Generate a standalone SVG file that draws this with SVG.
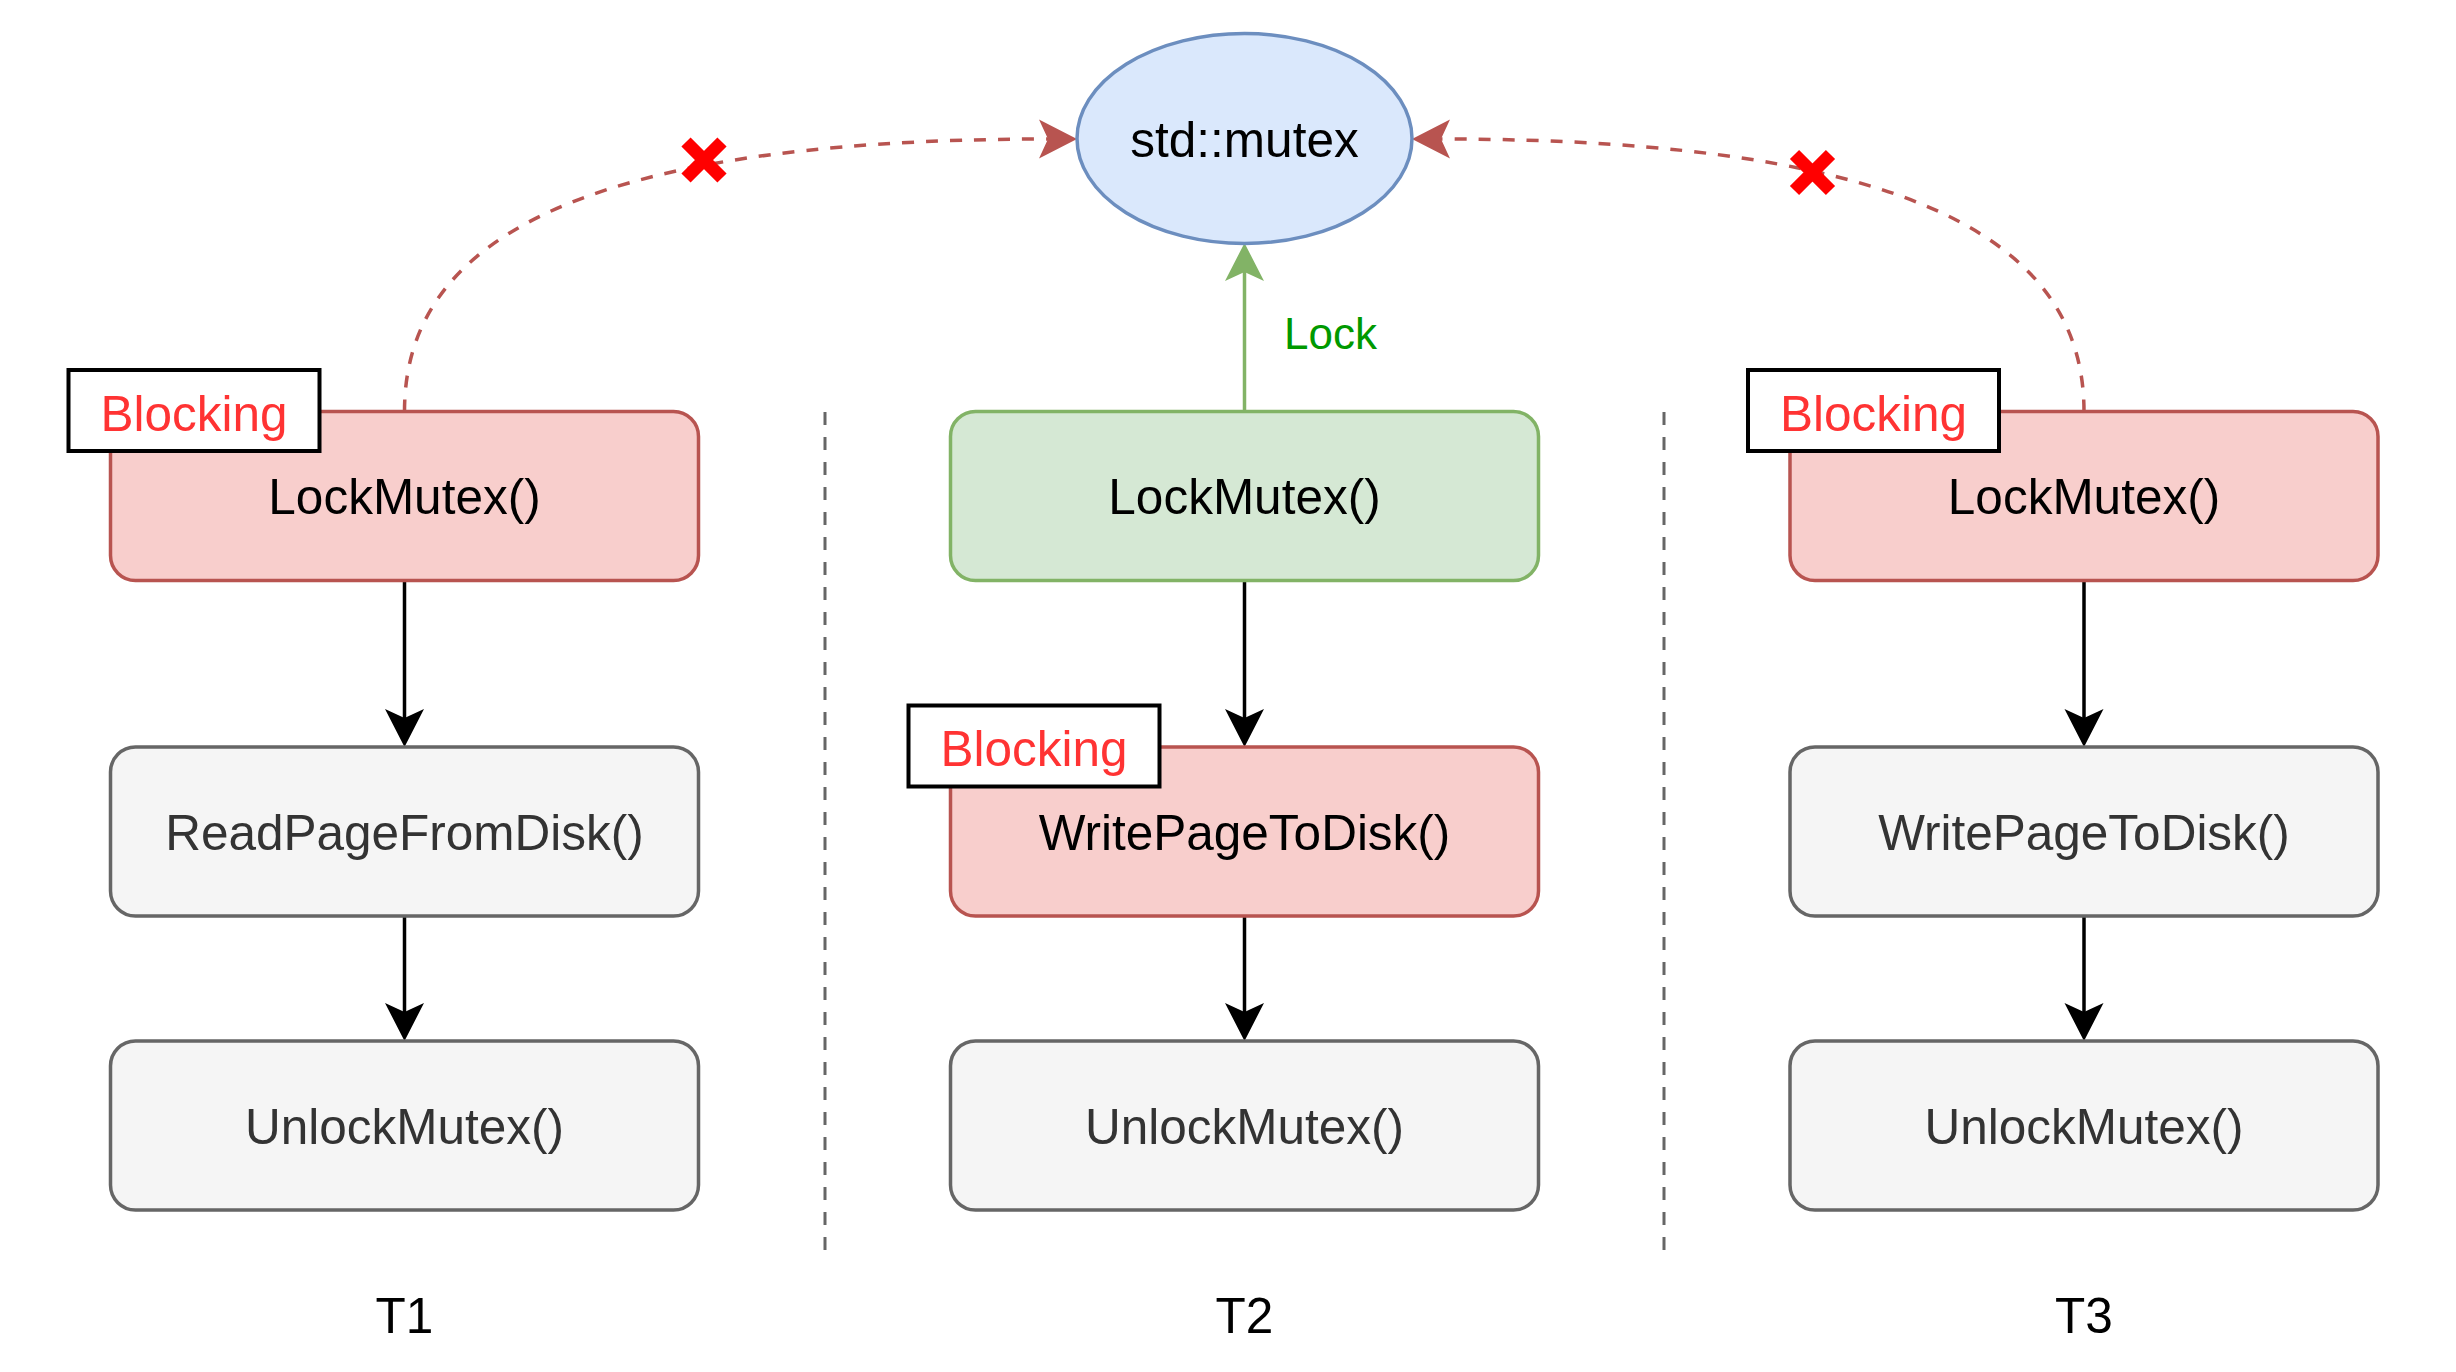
<svg xmlns="http://www.w3.org/2000/svg" width="2456" height="1372" viewBox="0 0 2456 1372">
<style>
text { font-family: "Liberation Sans", Arial, Helvetica, sans-serif; font-size: 49.5px; text-anchor: middle; }
.red { fill: #f8cecc; stroke: #b85450; stroke-width: 3.5; }
.green { fill: #d5e8d4; stroke: #82b366; stroke-width: 3.5; }
.gray { fill: #f5f5f5; stroke: #666666; stroke-width: 3.5; }
.dark { fill: #000000; }
.gtext { fill: #333333; }
.tag { fill: #ffffff; stroke: #000000; stroke-width: 4; }
.tagtext { fill: #ff3333; }
.flow { fill: none; stroke: #000000; stroke-width: 3.5; marker-end: url(#arrowBlack); }
.lock { fill: none; stroke: #82b366; stroke-width: 3.5; marker-end: url(#arrowGreen); }
.fail { fill: none; stroke: #b85450; stroke-width: 3.5; stroke-dasharray: 12 12; marker-end: url(#arrowRed); }
.sep { fill: none; stroke: #666666; stroke-width: 3; stroke-dasharray: 13 12; }
.cross { fill: none; stroke: #ff0000; stroke-width: 13; stroke-linecap: butt; }
</style>
<defs>
<marker id="arrowBlack" viewBox="-40 -21 42 42" markerWidth="42" markerHeight="42" refX="-29" refY="0" orient="auto" markerUnits="userSpaceOnUse">
<path d="M0,0 L-38,-19.5 L-29,0 L-38,19.5 Z" fill="#000000"/>
</marker>
<marker id="arrowGreen" viewBox="-40 -21 42 42" markerWidth="42" markerHeight="42" refX="-29" refY="0" orient="auto" markerUnits="userSpaceOnUse">
<path d="M0,0 L-38,-19.5 L-29,0 L-38,19.5 Z" fill="#82b366"/>
</marker>
<marker id="arrowRed" viewBox="-40 -21 42 42" markerWidth="42" markerHeight="42" refX="-29" refY="0" orient="auto" markerUnits="userSpaceOnUse">
<path d="M0,0 L-38,-19.5 L-29,0 L-38,19.5 Z" fill="#b85450"/>
</marker>
</defs>
<rect width="2456" height="1372" fill="#ffffff"/>

<g id="separators">
<line class="sep" x1="825" y1="412" x2="825" y2="1252"/>
<line class="sep" x1="1664" y1="412" x2="1664" y2="1252"/>
</g>

<g id="connectors">
<path class="fail" d="M404.5,411.5 C404.5,250 560,139 1048,139"/>
<path class="fail" d="M2084,411.5 C2084,250 1929,139 1441,139"/>
<path class="lock" d="M1244.5,411.5 L1244.5,272"/>
<path class="flow" d="M404.5,580.5 L404.5,718"/>
<path class="flow" d="M404.5,916 L404.5,1012"/>
<path class="flow" d="M1244.5,580.5 L1244.5,718"/>
<path class="flow" d="M1244.5,916 L1244.5,1012"/>
<path class="flow" d="M2084,580.5 L2084,718"/>
<path class="flow" d="M2084,916 L2084,1012"/>
<text x="1284" y="349" style="font-size:44px; text-anchor:start; fill:#009900">Lock</text>
<path class="cross" d="M686,142 L722,178 M722,142 L686,178"/>
<path class="cross" d="M1794.5,154.5 L1830.5,190.5 M1830.5,154.5 L1794.5,190.5"/>
</g>

<g id="mutex">
<ellipse cx="1244.5" cy="138.5" rx="167.5" ry="105" fill="#dae8fc" stroke="#6c8ebf" stroke-width="3.5"/>
<text x="1244.5" y="157" class="dark">std::mutex</text>
</g>

<g id="t1-lock">
<rect class="red" x="110.5" y="411.5" width="588" height="169" rx="25" ry="25"/>
<text x="404.5" y="514" class="dark">LockMutex()</text>
</g>
<g id="t1-blocking">
<rect class="tag" x="68.5" y="370" width="251" height="81"/>
<text x="194" y="430.7" class="tagtext">Blocking</text>
</g>
<g id="t1-read">
<rect class="gray" x="110.5" y="747" width="588" height="169" rx="25" ry="25"/>
<text x="404.5" y="849.5" class="gtext">ReadPageFromDisk()</text>
</g>
<g id="t1-unlock">
<rect class="gray" x="110.5" y="1041" width="588" height="169" rx="25" ry="25"/>
<text x="404.5" y="1143.5" class="gtext">UnlockMutex()</text>
</g>
<g id="t1-label">
<text x="404.5" y="1333" class="dark">T1</text>
</g>

<g id="t2-lock">
<rect class="green" x="950.5" y="411.5" width="588" height="169" rx="25" ry="25"/>
<text x="1244.5" y="514" class="dark">LockMutex()</text>
</g>
<g id="t2-write">
<rect class="red" x="950.5" y="747" width="588" height="169" rx="25" ry="25"/>
<text x="1244.5" y="849.5" class="dark">WritePageToDisk()</text>
</g>
<g id="t2-blocking">
<rect class="tag" x="908.5" y="705.5" width="251" height="81"/>
<text x="1034" y="766.2" class="tagtext">Blocking</text>
</g>
<g id="t2-unlock">
<rect class="gray" x="950.5" y="1041" width="588" height="169" rx="25" ry="25"/>
<text x="1244.5" y="1143.5" class="gtext">UnlockMutex()</text>
</g>
<g id="t2-label">
<text x="1244.5" y="1333" class="dark">T2</text>
</g>

<g id="t3-lock">
<rect class="red" x="1790" y="411.5" width="588" height="169" rx="25" ry="25"/>
<text x="2084" y="514" class="dark">LockMutex()</text>
</g>
<g id="t3-blocking">
<rect class="tag" x="1748" y="370" width="251" height="81"/>
<text x="1873.5" y="430.7" class="tagtext">Blocking</text>
</g>
<g id="t3-write">
<rect class="gray" x="1790" y="747" width="588" height="169" rx="25" ry="25"/>
<text x="2084" y="849.5" class="gtext">WritePageToDisk()</text>
</g>
<g id="t3-unlock">
<rect class="gray" x="1790" y="1041" width="588" height="169" rx="25" ry="25"/>
<text x="2084" y="1143.5" class="gtext">UnlockMutex()</text>
</g>
<g id="t3-label">
<text x="2084" y="1333" class="dark">T3</text>
</g>
</svg>
